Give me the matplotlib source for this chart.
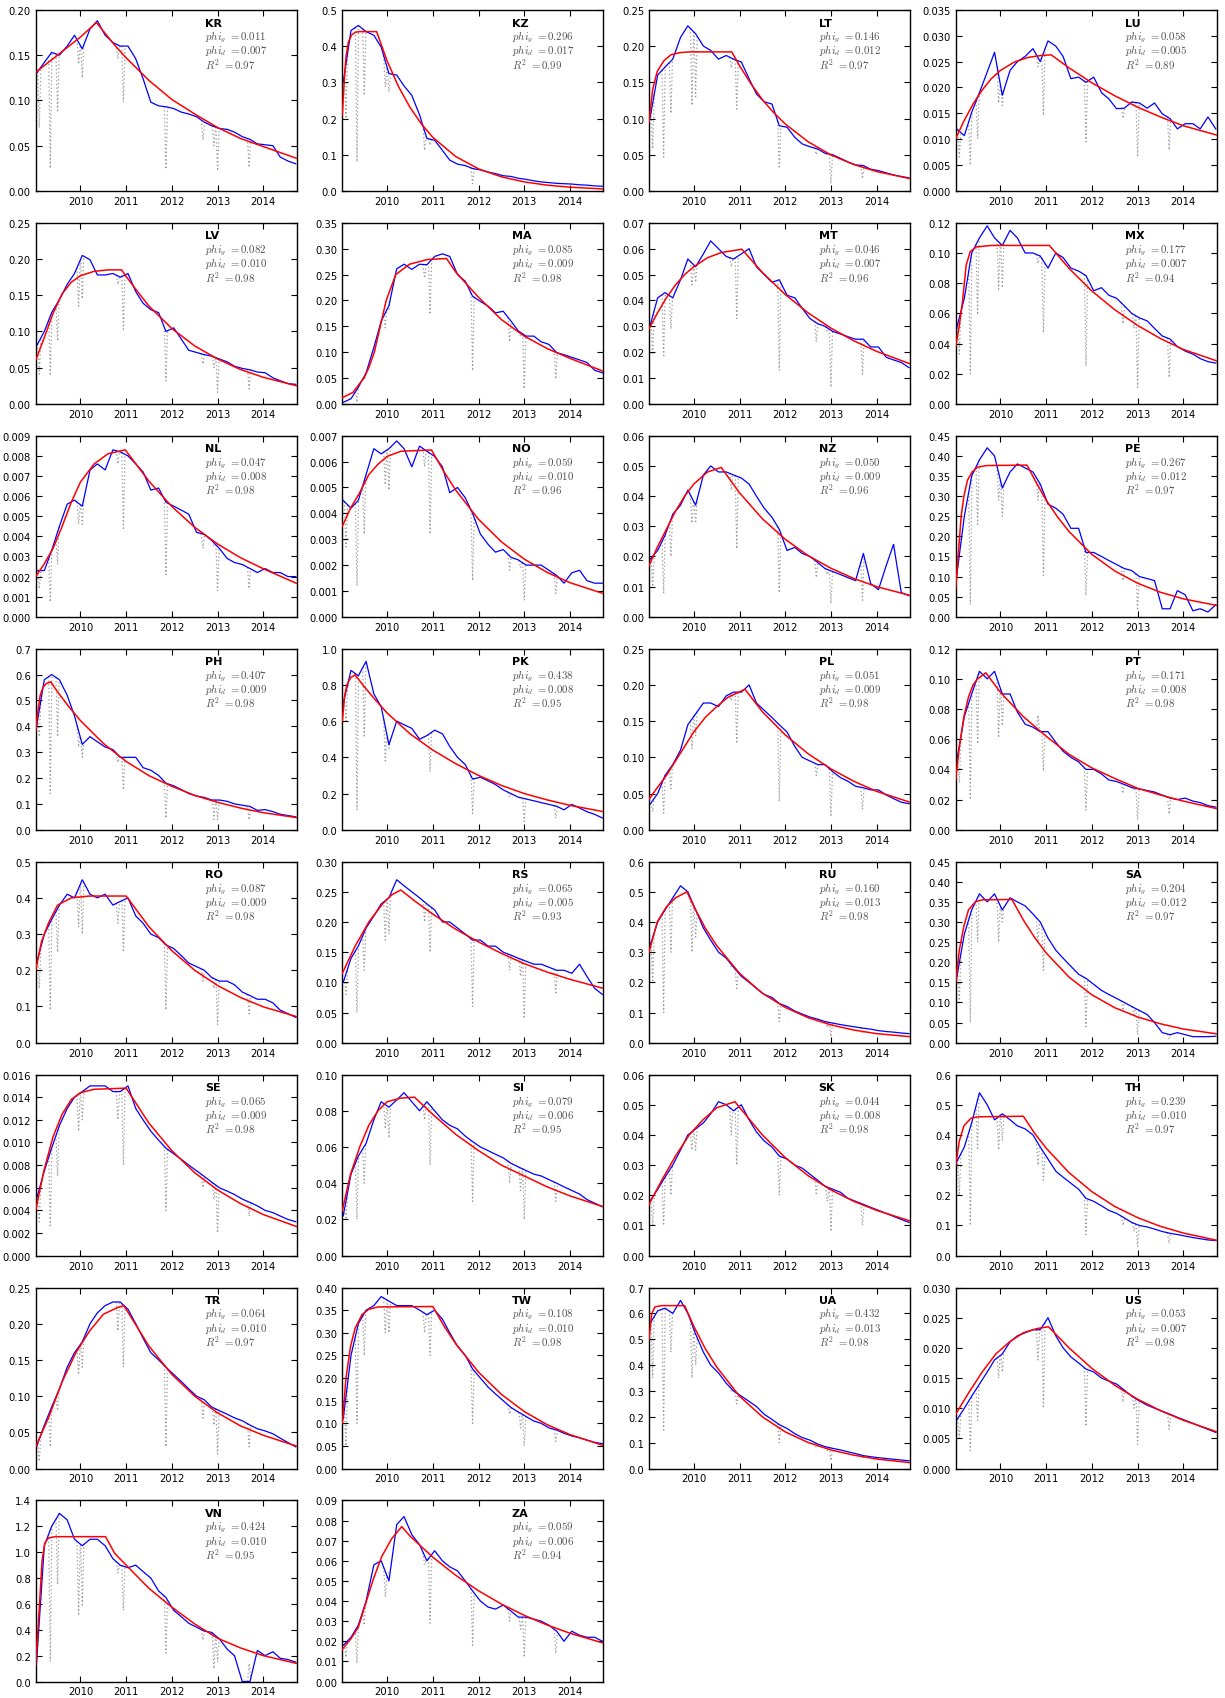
import matplotlib
matplotlib.use("Agg")
import matplotlib.pyplot as plt
import numpy as np
from matplotlib.ticker import MaxNLocator

plt.rcParams.update({
    "font.family": "DejaVu Sans",
    "font.size": 7.2,
    "mathtext.fontset": "cm",
    "xtick.direction": "in",
    "ytick.direction": "in",
    "xtick.top": True,
    "ytick.right": True,
    "xtick.major.size": 4,
    "ytick.major.size": 4,
    "axes.linewidth": 1.0,
})

COUNTRIES = ["KR", "KZ", "LT", "LU", "LV", "MA", "MT", "MX", "NL", "NO",
             "NZ", "PE", "PH", "PK", "PL", "PT", "RO", "RS", "RU", "SA",
             "SE", "SI", "SK", "TH", "TR", "TW", "UA", "US", "VN", "ZA"]
PHI_G = [0.011, 0.296, 0.146, 0.058, 0.082, 0.085, 0.046, 0.177, 0.047, 0.059,
         0.050, 0.267, 0.407, 0.438, 0.051, 0.171, 0.087, 0.065, 0.160, 0.204,
         0.065, 0.079, 0.044, 0.239, 0.064, 0.108, 0.432, 0.053, 0.424, 0.059]
PHI_D = [0.007, 0.017, 0.012, 0.005, 0.010, 0.009, 0.007, 0.007, 0.008, 0.010,
         0.009, 0.012, 0.009, 0.008, 0.009, 0.008, 0.009, 0.005, 0.013, 0.012,
         0.009, 0.006, 0.008, 0.010, 0.010, 0.010, 0.013, 0.007, 0.010, 0.006]
R2 = [0.97, 0.99, 0.97, 0.89, 0.98, 0.98, 0.96, 0.94, 0.98, 0.96,
      0.96, 0.97, 0.98, 0.95, 0.98, 0.98, 0.98, 0.93, 0.98, 0.97,
      0.98, 0.95, 0.98, 0.97, 0.97, 0.98, 0.98, 0.98, 0.95, 0.94]
YMAX = [0.20, 0.5, 0.25, 0.035, 0.25, 0.35, 0.07, 0.12, 0.009, 0.007,
        0.06, 0.45, 0.7, 1.0, 0.25, 0.12, 0.5, 0.30, 0.6, 0.45,
        0.016, 0.10, 0.06, 0.6, 0.25, 0.40, 0.7, 0.030, 1.4, 0.09]

YEARS = [2010, 2011, 2012, 2013, 2014]

# sample dates of the observed series (two-monthly)
DATES = [2009.04, 2009.21, 2009.37, 2009.54, 2009.71, 2009.87,
         2010.04, 2010.21, 2010.37, 2010.54, 2010.71, 2010.87,
         2011.04, 2011.21, 2011.37, 2011.54, 2011.71, 2011.87,
         2012.04, 2012.21, 2012.37, 2012.54, 2012.71, 2012.87,
         2013.04, 2013.21, 2013.37, 2013.54, 2013.71, 2013.87,
         2014.04, 2014.21, 2014.37, 2014.54, 2014.71]

# observed share (blue), one value per date
BLUE = {
    "KR": [0.13, 0.142, 0.153, 0.15, 0.16, 0.172, 0.157, 0.179, 0.188, 0.172, 0.164, 0.16,
           0.16, 0.146, 0.124, 0.098, 0.094, 0.093, 0.091, 0.087, 0.085, 0.082, 0.076, 0.072,
           0.069, 0.068, 0.065, 0.06, 0.057, 0.052, 0.051, 0.05, 0.0375, 0.033, 0.03],
    "KZ": [0.30, 0.443, 0.457, 0.44, 0.43, 0.397, 0.324, 0.32, 0.29, 0.264, 0.21, 0.145,
           0.14, 0.112, 0.085, 0.074, 0.07, 0.062, 0.058, 0.052, 0.048, 0.042, 0.04, 0.035,
           0.032, 0.028, 0.025, 0.023, 0.021, 0.02, 0.019, 0.017, 0.016, 0.014, 0.013],
    "LT": [0.10, 0.16, 0.171, 0.182, 0.212, 0.228, 0.217, 0.20, 0.194, 0.182, 0.187, 0.182,
           0.178, 0.155, 0.134, 0.123, 0.12, 0.09, 0.088, 0.074, 0.065, 0.061, 0.058, 0.052,
           0.05, 0.045, 0.04, 0.036, 0.035, 0.03, 0.028, 0.025, 0.022, 0.02, 0.018],
    "LU": [0.012, 0.0107, 0.0152, 0.019, 0.023, 0.0268, 0.0185, 0.0233, 0.025, 0.026, 0.0275, 0.025,
           0.029, 0.028, 0.026, 0.0217, 0.022, 0.021, 0.022, 0.019, 0.0178, 0.0159, 0.016, 0.0172,
           0.017, 0.016, 0.017, 0.0149, 0.014, 0.012, 0.013, 0.013, 0.012, 0.0143, 0.012],
    "LV": [0.08, 0.10, 0.126, 0.144, 0.165, 0.18, 0.205, 0.199, 0.178, 0.178, 0.18, 0.175,
           0.18, 0.155, 0.139, 0.13, 0.126, 0.10, 0.105, 0.089, 0.074, 0.071, 0.068, 0.066,
           0.062, 0.058, 0.052, 0.049, 0.047, 0.044, 0.043, 0.036, 0.032, 0.028, 0.027],
    "MA": [0.003, 0.01, 0.032, 0.06, 0.109, 0.16, 0.19, 0.261, 0.27, 0.26, 0.27, 0.269,
           0.285, 0.29, 0.285, 0.25, 0.237, 0.208, 0.198, 0.189, 0.176, 0.179, 0.16, 0.141,
           0.131, 0.131, 0.12, 0.115, 0.099, 0.095, 0.09, 0.085, 0.08, 0.065, 0.06],
    "MT": [0.03, 0.041, 0.043, 0.041, 0.048, 0.056, 0.053, 0.058, 0.063, 0.06, 0.057, 0.056,
           0.058, 0.06, 0.053, 0.05, 0.047, 0.048, 0.042, 0.041, 0.037, 0.033, 0.031, 0.03,
           0.028, 0.027, 0.026, 0.025, 0.025, 0.022, 0.022, 0.018, 0.017, 0.016, 0.014],
    "MX": [0.05, 0.07, 0.10, 0.11, 0.118, 0.11, 0.105, 0.115, 0.11, 0.10, 0.10, 0.098,
           0.09, 0.10, 0.097, 0.09, 0.088, 0.085, 0.075, 0.077, 0.072, 0.07, 0.065, 0.06,
           0.057, 0.055, 0.05, 0.045, 0.043, 0.038, 0.035, 0.033, 0.03, 0.028, 0.027],
    "NL": [0.0023, 0.0023, 0.0033, 0.0045, 0.0056, 0.0058, 0.0055, 0.0073, 0.0076, 0.0073, 0.0083, 0.0082,
           0.008, 0.0076, 0.0072, 0.0063, 0.0064, 0.0057, 0.0055, 0.0053, 0.0051, 0.0042, 0.0041, 0.0038,
           0.0034, 0.0029, 0.0027, 0.0026, 0.0024, 0.0022, 0.0024, 0.0022, 0.0022, 0.002, 0.002],
    "NO": [0.0045, 0.0042, 0.0045, 0.0055, 0.0065, 0.0063, 0.0065, 0.0068, 0.0065, 0.0058, 0.0066, 0.0064,
           0.0062, 0.0058, 0.0048, 0.005, 0.0046, 0.004, 0.0032, 0.0028, 0.0025, 0.0026, 0.0023, 0.0022,
           0.002, 0.002, 0.002, 0.0018, 0.0016, 0.0013, 0.0017, 0.0018, 0.0014, 0.0013, 0.0013],
    "NZ": [0.019, 0.022, 0.027, 0.034, 0.037, 0.042, 0.037, 0.047, 0.05, 0.048, 0.048, 0.047,
           0.046, 0.044, 0.04, 0.036, 0.033, 0.029, 0.022, 0.023, 0.021, 0.02, 0.018, 0.016,
           0.015, 0.014, 0.013, 0.012, 0.021, 0.011, 0.009, 0.017, 0.024, 0.008, 0.007],
    "PE": [0.10, 0.25, 0.35, 0.39, 0.42, 0.40, 0.32, 0.36, 0.38, 0.37, 0.36, 0.33,
           0.28, 0.27, 0.255, 0.22, 0.22, 0.16, 0.16, 0.15, 0.14, 0.13, 0.12, 0.115,
           0.10, 0.095, 0.09, 0.02, 0.02, 0.065, 0.055, 0.015, 0.02, 0.012, 0.03],
    "PH": [0.40, 0.58, 0.60, 0.58, 0.52, 0.44, 0.33, 0.36, 0.34, 0.32, 0.31, 0.28,
           0.28, 0.28, 0.24, 0.23, 0.21, 0.18, 0.17, 0.155, 0.14, 0.13, 0.125, 0.115,
           0.115, 0.11, 0.10, 0.095, 0.09, 0.075, 0.078, 0.07, 0.06, 0.055, 0.05],
    "PK": [0.70, 0.88, 0.85, 0.93, 0.75, 0.68, 0.47, 0.60, 0.58, 0.56, 0.50, 0.52,
           0.55, 0.53, 0.46, 0.40, 0.36, 0.28, 0.29, 0.27, 0.25, 0.22, 0.20, 0.18,
           0.17, 0.16, 0.15, 0.14, 0.13, 0.11, 0.14, 0.12, 0.10, 0.085, 0.065],
    "PL": [0.035, 0.05, 0.075, 0.09, 0.11, 0.145, 0.16, 0.175, 0.175, 0.17, 0.185, 0.19,
           0.19, 0.20, 0.175, 0.165, 0.155, 0.145, 0.135, 0.115, 0.10, 0.095, 0.09, 0.09,
           0.08, 0.072, 0.067, 0.06, 0.058, 0.055, 0.055, 0.048, 0.043, 0.038, 0.036],
    "PT": [0.045, 0.075, 0.09, 0.105, 0.10, 0.105, 0.09, 0.09, 0.078, 0.07, 0.068, 0.065,
           0.065, 0.058, 0.052, 0.048, 0.045, 0.04, 0.04, 0.037, 0.033, 0.032, 0.03, 0.028,
           0.027, 0.026, 0.025, 0.023, 0.021, 0.02, 0.021, 0.019, 0.018, 0.016, 0.015],
    "RO": [0.22, 0.30, 0.34, 0.38, 0.41, 0.40, 0.45, 0.41, 0.40, 0.41, 0.38, 0.39,
           0.40, 0.35, 0.33, 0.30, 0.29, 0.27, 0.26, 0.24, 0.22, 0.21, 0.20, 0.18,
           0.17, 0.17, 0.16, 0.14, 0.13, 0.12, 0.12, 0.11, 0.09, 0.08, 0.07],
    "RS": [0.10, 0.14, 0.16, 0.19, 0.21, 0.23, 0.24, 0.27, 0.26, 0.25, 0.24, 0.23,
           0.22, 0.20, 0.20, 0.19, 0.18, 0.17, 0.17, 0.16, 0.16, 0.15, 0.145, 0.14,
           0.135, 0.13, 0.13, 0.125, 0.12, 0.12, 0.115, 0.13, 0.11, 0.09, 0.08],
    "RU": [0.32, 0.40, 0.44, 0.48, 0.52, 0.50, 0.44, 0.38, 0.34, 0.30, 0.28, 0.25,
           0.22, 0.20, 0.18, 0.16, 0.15, 0.13, 0.12, 0.105, 0.095, 0.085, 0.078, 0.07,
           0.065, 0.06, 0.056, 0.052, 0.048, 0.045, 0.04, 0.037, 0.035, 0.032, 0.03],
    "SA": [0.16, 0.27, 0.33, 0.37, 0.35, 0.37, 0.33, 0.36, 0.35, 0.34, 0.32, 0.30,
           0.26, 0.23, 0.21, 0.19, 0.17, 0.16, 0.145, 0.13, 0.12, 0.11, 0.10, 0.09,
           0.08, 0.07, 0.05, 0.025, 0.02, 0.025, 0.02, 0.015, 0.015, 0.015, 0.016],
    "SE": [0.005, 0.0075, 0.0095, 0.0115, 0.013, 0.014, 0.0145, 0.015, 0.015, 0.015, 0.0145, 0.0145,
           0.015, 0.013, 0.012, 0.011, 0.0102, 0.0095, 0.009, 0.0085, 0.008, 0.0075, 0.007, 0.0065,
           0.006, 0.0057, 0.0054, 0.005, 0.0047, 0.0044, 0.004, 0.0038, 0.0035, 0.0032, 0.003],
    "SI": [0.022, 0.045, 0.055, 0.062, 0.075, 0.085, 0.082, 0.086, 0.09, 0.085, 0.08, 0.085,
           0.08, 0.075, 0.072, 0.07, 0.066, 0.063, 0.06, 0.058, 0.056, 0.054, 0.051, 0.049,
           0.047, 0.045, 0.044, 0.042, 0.04, 0.038, 0.036, 0.034, 0.031, 0.029, 0.027],
    "SK": [0.018, 0.022, 0.026, 0.03, 0.035, 0.04, 0.042, 0.044, 0.047, 0.051, 0.05, 0.048,
           0.05, 0.045, 0.041, 0.038, 0.036, 0.033, 0.032, 0.03, 0.029, 0.027, 0.025, 0.023,
           0.022, 0.021, 0.019, 0.018, 0.017, 0.016, 0.015, 0.014, 0.013, 0.012, 0.011],
    "TH": [0.31, 0.36, 0.44, 0.54, 0.50, 0.45, 0.47, 0.45, 0.43, 0.42, 0.40, 0.36,
           0.32, 0.28, 0.26, 0.24, 0.22, 0.19, 0.18, 0.165, 0.15, 0.14, 0.125, 0.11,
           0.10, 0.095, 0.088, 0.08, 0.074, 0.07, 0.065, 0.06, 0.056, 0.052, 0.05],
    "TR": [0.03, 0.06, 0.085, 0.11, 0.14, 0.16, 0.175, 0.20, 0.215, 0.225, 0.23, 0.23,
           0.22, 0.20, 0.18, 0.16, 0.15, 0.14, 0.13, 0.12, 0.11, 0.10, 0.095, 0.085,
           0.08, 0.075, 0.07, 0.066, 0.06, 0.055, 0.052, 0.048, 0.042, 0.036, 0.03],
    "TW": [0.11, 0.25, 0.32, 0.35, 0.36, 0.38, 0.37, 0.36, 0.36, 0.36, 0.35, 0.34,
           0.35, 0.33, 0.30, 0.27, 0.25, 0.22, 0.20, 0.18, 0.165, 0.15, 0.135, 0.125,
           0.115, 0.105, 0.10, 0.09, 0.085, 0.078, 0.072, 0.068, 0.063, 0.058, 0.055],
    "UA": [0.56, 0.61, 0.62, 0.60, 0.65, 0.60, 0.52, 0.45, 0.40, 0.37, 0.33, 0.30,
           0.28, 0.26, 0.24, 0.21, 0.19, 0.17, 0.155, 0.135, 0.12, 0.11, 0.095, 0.085,
           0.078, 0.072, 0.065, 0.058, 0.05, 0.046, 0.042, 0.039, 0.036, 0.033, 0.03],
    "US": [0.008, 0.01, 0.012, 0.014, 0.016, 0.018, 0.019, 0.021, 0.022, 0.0225, 0.023, 0.023,
           0.025, 0.022, 0.02, 0.0185, 0.0175, 0.0165, 0.016, 0.015, 0.0145, 0.014, 0.013, 0.012,
           0.0112, 0.0105, 0.01, 0.0095, 0.009, 0.0085, 0.008, 0.0075, 0.007, 0.0065, 0.006],
    "VN": [0.15, 1.05, 1.20, 1.30, 1.25, 1.10, 1.05, 1.10, 1.10, 1.05, 0.95, 0.90,
           0.88, 0.90, 0.85, 0.80, 0.70, 0.65, 0.55, 0.50, 0.45, 0.42, 0.39, 0.38,
           0.33, 0.25, 0.20, 0.0, 0.0, 0.24, 0.20, 0.23, 0.18, 0.17, 0.15],
    "ZA": [0.018, 0.022, 0.028, 0.04, 0.058, 0.06, 0.05, 0.078, 0.082, 0.073, 0.068, 0.06,
           0.065, 0.06, 0.057, 0.055, 0.05, 0.045, 0.04, 0.037, 0.036, 0.038, 0.035, 0.032,
           0.032, 0.031, 0.03, 0.028, 0.025, 0.02, 0.025, 0.023, 0.022, 0.022, 0.02],
}

# fitted curve (red), (date, value) pairs
RED = {
    "KR": [(2009.02, 0.131), (2009.5, 0.150), (2010.0, 0.170), (2010.35, 0.186), (2010.75, 0.161),
           (2011.0, 0.147), (2011.5, 0.122), (2012.0, 0.101), (2012.5, 0.085), (2013.0, 0.070),
           (2013.5, 0.058), (2014.0, 0.049), (2014.73, 0.036)],
    "KZ": [(2009.02, 0.21), (2009.06, 0.30), (2009.10, 0.37), (2009.15, 0.41), (2009.22, 0.43),
           (2009.30, 0.438), (2009.40, 0.44), (2009.77, 0.44), (2010.0, 0.359), (2010.25, 0.288),
           (2010.5, 0.231), (2010.75, 0.185), (2011.0, 0.148), (2011.5, 0.095), (2012.0, 0.061),
           (2012.5, 0.039), (2013.0, 0.025), (2013.5, 0.016), (2014.0, 0.0104), (2014.73, 0.0055)],
    "LT": [(2009.02, 0.095), (2009.1, 0.14), (2009.2, 0.165), (2009.35, 0.18), (2009.5, 0.188),
           (2009.7, 0.191), (2009.9, 0.192), (2010.83, 0.192), (2011.0, 0.173), (2011.25, 0.148),
           (2011.5, 0.126), (2011.75, 0.108), (2012.0, 0.0925), (2012.5, 0.068), (2013.0, 0.0497),
           (2013.5, 0.0365), (2014.0, 0.0268), (2014.73, 0.017)],
    "LU": [(2009.02, 0.0101), (2009.2, 0.0135), (2009.4, 0.0168), (2009.6, 0.0195), (2009.8, 0.0217),
           (2010.0, 0.0233), (2010.3, 0.0249), (2010.6, 0.0258), (2010.9, 0.0262), (2011.11, 0.0263),
           (2011.5, 0.0238), (2012.0, 0.0209), (2012.5, 0.0184), (2013.0, 0.0162), (2013.5, 0.0143),
           (2014.0, 0.0126), (2014.73, 0.0108)],
    "LV": [(2009.02, 0.06), (2009.2, 0.09), (2009.4, 0.125), (2009.6, 0.152), (2009.8, 0.168),
           (2010.0, 0.177), (2010.3, 0.183), (2010.6, 0.185), (2010.9, 0.185), (2011.0, 0.176),
           (2011.25, 0.155), (2011.5, 0.135), (2012.0, 0.104), (2012.5, 0.080), (2013.0, 0.062),
           (2013.5, 0.0475), (2014.0, 0.0367), (2014.73, 0.025)],
    "MA": [(2009.02, 0.012), (2009.25, 0.022), (2009.5, 0.051), (2009.6, 0.07), (2009.72, 0.10),
           (2009.85, 0.15), (2009.98, 0.20), (2010.19, 0.25), (2010.49, 0.27), (2010.88, 0.279),
           (2011.3, 0.281), (2011.5, 0.255), (2012.0, 0.206), (2012.5, 0.163), (2013.0, 0.131),
           (2013.5, 0.107), (2014.0, 0.088), (2014.73, 0.063)],
    "MT": [(2009.02, 0.029), (2009.2, 0.035), (2009.4, 0.041), (2009.6, 0.046), (2009.8, 0.050),
           (2010.0, 0.053), (2010.3, 0.0565), (2010.6, 0.0585), (2011.05, 0.0598), (2011.5, 0.0508),
           (2012.0, 0.0423), (2012.5, 0.0352), (2013.0, 0.0293), (2013.5, 0.0244), (2014.0, 0.0203),
           (2014.73, 0.0155)],
    "MX": [(2009.02, 0.038), (2009.1, 0.052), (2009.17, 0.068), (2009.25, 0.092), (2009.34, 0.101),
           (2009.47, 0.104), (2009.8, 0.105), (2011.07, 0.105), (2011.5, 0.0898), (2012.0, 0.0748),
           (2012.5, 0.0624), (2013.0, 0.052), (2013.5, 0.0433), (2014.0, 0.0361), (2014.73, 0.0285)],
    "NL": [(2009.02, 0.002), (2009.2, 0.0026), (2009.4, 0.0034), (2009.6, 0.0045), (2009.8, 0.0057),
           (2010.0, 0.0067), (2010.3, 0.0076), (2010.6, 0.0081), (2010.98, 0.0083), (2011.5, 0.00674),
           (2012.0, 0.00548), (2012.5, 0.00445), (2013.0, 0.00362), (2013.5, 0.00294),
           (2014.0, 0.00239), (2014.73, 0.00166)],
    "NO": [(2009.02, 0.0035), (2009.2, 0.0042), (2009.4, 0.0048), (2009.6, 0.0055), (2009.8, 0.0059),
           (2010.0, 0.0062), (2010.3, 0.0064), (2010.97, 0.00645), (2011.25, 0.00559), (2011.5, 0.0049),
           (2012.0, 0.00377), (2012.5, 0.0029), (2013.0, 0.00223), (2013.5, 0.00172),
           (2014.0, 0.00132), (2014.73, 0.0009)],
    "NZ": [(2009.02, 0.017), (2009.2, 0.023), (2009.4, 0.029), (2009.6, 0.035), (2009.8, 0.040),
           (2010.0, 0.044), (2010.3, 0.048), (2010.6, 0.0495), (2011.0, 0.0411), (2011.5, 0.0325),
           (2012.0, 0.0257), (2012.5, 0.0203), (2013.0, 0.0161), (2013.5, 0.0127), (2014.0, 0.010),
           (2014.73, 0.0071)],
    "PE": [(2009.02, 0.07), (2009.08, 0.16), (2009.14, 0.25), (2009.2, 0.30), (2009.28, 0.34),
           (2009.38, 0.36), (2009.5, 0.372), (2009.7, 0.376), (2010.58, 0.377), (2010.8, 0.33),
           (2011.0, 0.29), (2011.25, 0.248), (2011.5, 0.212), (2012.0, 0.155), (2012.5, 0.114),
           (2013.0, 0.0835), (2013.5, 0.061), (2014.0, 0.0447), (2014.73, 0.0283)],
    "PH": [(2009.02, 0.38), (2009.07, 0.46), (2009.12, 0.52), (2009.18, 0.55), (2009.25, 0.565),
           (2009.35, 0.572), (2009.5, 0.533), (2009.75, 0.475), (2010.0, 0.422), (2010.5, 0.334),
           (2011.0, 0.264), (2011.5, 0.209), (2012.0, 0.168), (2012.5, 0.133), (2013.0, 0.106),
           (2013.5, 0.084), (2014.0, 0.066), (2014.73, 0.047)],
    "PK": [(2009.02, 0.60), (2009.07, 0.74), (2009.12, 0.80), (2009.2, 0.84), (2009.3, 0.855),
           (2009.5, 0.79), (2009.75, 0.715), (2010.0, 0.645), (2010.5, 0.53), (2011.0, 0.44),
           (2011.5, 0.365), (2012.0, 0.30), (2012.5, 0.245), (2013.0, 0.20), (2013.5, 0.165),
           (2014.0, 0.135), (2014.73, 0.10)],
    "PL": [(2009.02, 0.042), (2009.2, 0.058), (2009.4, 0.075), (2009.6, 0.095), (2009.8, 0.115),
           (2010.0, 0.135), (2010.25, 0.155), (2010.5, 0.17), (2010.75, 0.183), (2011.12, 0.194),
           (2011.5, 0.163), (2012.0, 0.131), (2012.5, 0.105), (2013.0, 0.084), (2013.5, 0.067),
           (2014.0, 0.053), (2014.73, 0.038)],
    "PT": [(2009.02, 0.033), (2009.1, 0.055), (2009.2, 0.075), (2009.3, 0.088), (2009.4, 0.096),
           (2009.5, 0.10), (2009.68, 0.104), (2010.0, 0.091), (2010.5, 0.075), (2011.0, 0.062),
           (2011.5, 0.05), (2012.0, 0.041), (2012.5, 0.034), (2013.0, 0.0275), (2013.5, 0.023),
           (2014.0, 0.019), (2014.73, 0.014)],
    "RO": [(2009.02, 0.20), (2009.15, 0.28), (2009.3, 0.33), (2009.5, 0.38), (2009.8, 0.40),
           (2010.2, 0.405), (2011.0, 0.405), (2011.5, 0.32), (2012.0, 0.254), (2012.5, 0.20),
           (2013.0, 0.158), (2013.5, 0.125), (2014.0, 0.099), (2014.73, 0.072)],
    "RS": [(2009.02, 0.115), (2009.3, 0.16), (2009.6, 0.20), (2009.9, 0.23), (2010.1, 0.245),
           (2010.3, 0.253), (2010.6, 0.235), (2011.0, 0.213), (2011.5, 0.188), (2012.0, 0.167),
           (2012.5, 0.148), (2013.0, 0.131), (2013.5, 0.117), (2014.0, 0.105), (2014.73, 0.09)],
    "RU": [(2009.02, 0.30), (2009.2, 0.40), (2009.4, 0.45), (2009.6, 0.48), (2009.85, 0.50),
           (2010.0, 0.452), (2010.25, 0.38), (2010.5, 0.322), (2011.0, 0.23), (2011.5, 0.164),
           (2012.0, 0.117), (2012.5, 0.083), (2013.0, 0.059), (2013.5, 0.042), (2014.0, 0.03),
           (2014.73, 0.02)],
    "SA": [(2009.02, 0.15), (2009.1, 0.23), (2009.2, 0.29), (2009.3, 0.33), (2009.45, 0.35),
           (2009.6, 0.355), (2010.25, 0.356), (2010.5, 0.305), (2010.75, 0.261), (2011.0, 0.223),
           (2011.5, 0.163), (2012.0, 0.119), (2012.5, 0.087), (2013.0, 0.064), (2013.5, 0.047),
           (2014.0, 0.034), (2014.73, 0.022)],
    "SE": [(2009.02, 0.004), (2009.2, 0.0075), (2009.4, 0.0105), (2009.6, 0.0125), (2009.8, 0.0138),
           (2010.0, 0.0144), (2010.3, 0.0147), (2011.0, 0.0148), (2011.5, 0.0117), (2012.0, 0.00927),
           (2012.5, 0.00733), (2013.0, 0.0058), (2013.5, 0.0046), (2014.0, 0.00363), (2014.73, 0.00257)],
    "SI": [(2009.02, 0.025), (2009.2, 0.045), (2009.4, 0.06), (2009.6, 0.072), (2009.8, 0.08),
           (2010.0, 0.085), (2010.3, 0.087), (2010.6, 0.0875), (2011.0, 0.078), (2011.5, 0.067),
           (2012.0, 0.058), (2012.5, 0.05), (2013.0, 0.044), (2013.5, 0.038), (2014.0, 0.033),
           (2014.73, 0.027)],
    "SK": [(2009.02, 0.017), (2009.3, 0.025), (2009.6, 0.033), (2009.9, 0.04), (2010.2, 0.045),
           (2010.5, 0.049), (2010.9, 0.051), (2011.5, 0.040), (2012.0, 0.0325), (2012.5, 0.0265),
           (2013.0, 0.0218), (2013.5, 0.018), (2014.0, 0.015), (2014.73, 0.0115)],
    "TH": [(2009.02, 0.30), (2009.1, 0.38), (2009.2, 0.43), (2009.35, 0.455), (2009.5, 0.46),
           (2010.5, 0.462), (2010.75, 0.405), (2011.0, 0.356), (2011.5, 0.275), (2012.0, 0.212),
           (2012.5, 0.163), (2013.0, 0.126), (2013.5, 0.097), (2014.0, 0.075), (2014.73, 0.051)],
    "TR": [(2009.02, 0.03), (2009.3, 0.07), (2009.6, 0.12), (2009.9, 0.16), (2010.2, 0.19),
           (2010.5, 0.213), (2010.8, 0.222), (2010.95, 0.225), (2011.5, 0.169), (2012.0, 0.13),
           (2012.5, 0.10), (2013.0, 0.077), (2013.5, 0.059), (2014.0, 0.046), (2014.73, 0.031)],
    "TW": [(2009.02, 0.10), (2009.1, 0.20), (2009.2, 0.27), (2009.3, 0.31), (2009.45, 0.34),
           (2009.6, 0.352), (2009.8, 0.357), (2011.0, 0.358), (2011.25, 0.314), (2011.5, 0.276),
           (2012.0, 0.213), (2012.5, 0.164), (2013.0, 0.126), (2013.5, 0.097), (2014.0, 0.075),
           (2014.73, 0.051)],
    "UA": [(2009.02, 0.50), (2009.08, 0.60), (2009.15, 0.625), (2009.3, 0.63), (2009.8, 0.63),
           (2010.0, 0.55), (2010.25, 0.464), (2010.5, 0.393), (2011.0, 0.28), (2011.5, 0.20),
           (2012.0, 0.142), (2012.5, 0.101), (2013.0, 0.072), (2013.5, 0.052), (2014.0, 0.037),
           (2014.73, 0.023)],
    "US": [(2009.02, 0.009), (2009.3, 0.0125), (2009.6, 0.016), (2009.9, 0.019), (2010.2, 0.021),
           (2010.5, 0.0225), (2010.8, 0.0232), (2011.05, 0.0235), (2011.5, 0.020), (2012.0, 0.0166),
           (2012.5, 0.0138), (2013.0, 0.0115), (2013.5, 0.0096), (2014.0, 0.008), (2014.73, 0.0061)],
    "VN": [(2009.02, 0.12), (2009.06, 0.35), (2009.1, 0.57), (2009.16, 0.93), (2009.22, 1.07),
           (2009.3, 1.11), (2009.45, 1.12), (2010.55, 1.12), (2010.75, 0.99), (2011.0, 0.90),
           (2011.5, 0.72), (2012.0, 0.575), (2012.5, 0.445), (2013.0, 0.335), (2013.5, 0.26),
           (2014.0, 0.20), (2014.73, 0.14)],
    "ZA": [(2009.02, 0.016), (2009.2, 0.021), (2009.37, 0.027), (2009.52, 0.038), (2009.7, 0.051),
           (2009.88, 0.062), (2010.1, 0.071), (2010.32, 0.077), (2010.5, 0.0723), (2011.0, 0.0618),
           (2011.5, 0.0528), (2012.0, 0.0451), (2012.5, 0.0385), (2013.0, 0.0329), (2013.5, 0.0281),
           (2014.0, 0.024), (2014.73, 0.0191)],
}

# holiday dips in the raw series (grey dotted), bottom value per dip date
DIP_DATES = [2009.10, 2009.34, 2009.50, 2009.96, 2010.04, 2010.82,
             2010.94, 2011.87, 2012.68, 2012.92, 2013.00, 2013.69]
DIPS = {
    "KR": [0.07, 0.025, 0.087, 0.14, 0.125, 0.146, 0.098, 0.024, 0.056, 0.05, 0.022, 0.026],
    "KZ": [0.20, 0.08, 0.264, 0.287, 0.273, 0.112, 0.126, 0.02, None, None, None, None],
    "LT": [0.058, 0.047, 0.107, 0.118, 0.13, 0.17, 0.113, 0.031, 0.05, 0.049, 0.01, 0.017],
    "LU": [0.0066, 0.005, 0.0101, 0.017, 0.0165, 0.024, 0.0146, 0.0095, 0.014, 0.0165, 0.0066, 0.0079],
    "LV": [0.041, 0.039, 0.087, 0.135, 0.145, 0.165, 0.103, 0.032, 0.055, 0.05, 0.016, 0.021],
    "MA": [None, 0.003, 0.045, 0.147, 0.18, 0.243, 0.173, 0.064, 0.12, 0.13, 0.029, 0.048],
    "MT": [0.019, 0.018, 0.029, 0.046, 0.047, 0.053, 0.033, 0.013, 0.024, 0.028, 0.0064, 0.0115],
    "MX": [0.033, 0.02, 0.059, 0.076, 0.077, 0.093, 0.047, 0.025, 0.053, 0.05, 0.011, 0.0175],
    "NL": [0.0014, 0.00074, 0.0026, 0.0046, 0.0046, 0.0076, 0.0044, 0.0021, 0.0034, 0.0035, 0.0013, 0.0014],
    "NO": [0.0027, 0.0012, 0.0032, 0.0051, 0.0049, 0.0058, 0.0032, 0.0014, 0.0018, 0.0019, 0.00064, 0.0009],
    "NZ": [0.01, 0.0077, 0.02, 0.031, 0.031, 0.042, 0.0225, 0.008, 0.013, 0.014, 0.0044, 0.0055],
    "PE": [0.205, 0.03, 0.23, 0.29, 0.25, 0.29, 0.103, 0.053, 0.09, None, 0.016, None],
    "PH": [0.36, 0.14, 0.36, 0.32, 0.28, 0.26, 0.154, 0.045, None, 0.04, 0.038, 0.038],
    "PK": [0.6, 0.11, 0.51, 0.38, 0.45, 0.51, 0.32, 0.09, 0.18, 0.17, 0.046, 0.064],
    "PL": [0.025, 0.023, 0.057, 0.112, 0.13, 0.178, 0.119, 0.039, 0.075, None, 0.018, 0.028],
    "PT": [0.031, 0.02, 0.057, 0.061, 0.069, 0.076, 0.039, 0.013, 0.024, 0.026, 0.0066, 0.0103],
    "RO": [0.15, 0.09, 0.25, 0.32, 0.30, 0.33, 0.25, 0.09, 0.17, 0.15, 0.05, 0.08],
    "RS": [0.08, 0.05, 0.12, 0.17, 0.18, 0.20, 0.15, 0.06, 0.12, 0.11, 0.04, 0.08],
    "RU": [0.2, 0.1, 0.3, 0.3, 0.35, 0.25, 0.18, 0.07, 0.07, 0.05, 0.02, 0.03],
    "SA": [0.1, 0.05, 0.25, 0.25, 0.3, 0.25, 0.18, 0.04, 0.08, 0.07, 0.02, 0.01],
    "SE": [0.003, 0.0025, 0.007, 0.011, 0.012, 0.012, 0.008, 0.004, 0.006, 0.005, 0.002, 0.0035],
    "SI": [0.02, 0.02, 0.04, 0.07, 0.065, 0.075, 0.05, 0.03, 0.04, 0.035, 0.02, 0.03],
    "SK": [0.01, 0.01, 0.02, 0.035, 0.035, 0.04, 0.03, 0.02, 0.02, 0.018, 0.008, 0.01],
    "TH": [0.2, 0.1, 0.35, 0.35, 0.38, 0.3, 0.25, 0.07, 0.1, 0.08, 0.03, 0.04],
    "TR": [0.01, 0.03, 0.08, 0.13, 0.14, 0.19, 0.14, 0.03, 0.07, 0.06, 0.02, 0.03],
    "TW": [0.05, 0.1, 0.25, 0.3, 0.3, 0.3, 0.25, 0.1, 0.12, 0.09, 0.05, 0.06],
    "UA": [0.35, 0.15, 0.45, 0.35, 0.4, 0.3, 0.25, 0.1, 0.08, 0.07, 0.03, 0.04],
    "US": [0.005, 0.003, 0.008, 0.015, 0.016, 0.018, 0.01, 0.007, 0.011, 0.01, 0.004, 0.0065],
    "VN": [0.5, 0.154, 0.75, 0.51, 0.58, 0.84, 0.55, 0.22, 0.32, 0.10, 0.15, 0.14],
    "ZA": [0.012, 0.009, 0.028, 0.042, 0.054, 0.058, 0.029, 0.018, 0.03, 0.026, 0.012, 0.014],
}

fig = plt.figure(figsize=(12.25, 16.99), dpi=100, facecolor="white")
gs = fig.add_gridspec(8, 4, left=0.0291, right=0.9932, top=0.9936, bottom=0.0097,
                      wspace=0.175, hspace=0.176)

dates = np.array(DATES)
half = 0.035  # half width of a dip
for i, code in enumerate(COUNTRIES):
    ax = fig.add_subplot(gs[i // 4, i % 4])
    vals = np.array(BLUE[code])
    assert len(vals) == len(dates), code

    for d, low in zip(DIP_DATES, DIPS[code]):
        if low is None:
            continue
        xs = [d - half, d, d + half]
        top = np.interp([d - half, d + half], dates, vals)
        ax.plot(xs, [top[0], low, top[1]], linestyle=(0, (1, 2)), color="#9a9a9a",
                lw=0.9, zorder=1)

    ax.plot(dates, vals, color="#0000ff", lw=0.9, zorder=2)
    rt, rv = zip(*RED[code])
    ax.plot(rt, rv, color="#ff0000", lw=1.1, zorder=3)

    ax.set_xlim(2009.02, 2014.73)
    ax.set_ylim(0, YMAX[i])
    ax.set_xticks(YEARS)
    ax.set_xticklabels([str(y) for y in YEARS])
    ax.yaxis.set_major_locator(MaxNLocator(nbins=9, steps=[1, 2, 5, 10]))

    ax.text(0.65, 0.93, code, transform=ax.transAxes, fontsize=8, fontweight="bold",
            va="center", ha="left")
    ax.text(0.65, 0.855, r"$phi_g\ {=}%.3f$" % PHI_G[i], transform=ax.transAxes,
            fontsize=7.8, color="#505050", va="center", ha="left")
    ax.text(0.65, 0.78, r"$phi_d\ {=}%.3f$" % PHI_D[i], transform=ax.transAxes,
            fontsize=7.8, color="#505050", va="center", ha="left")
    ax.text(0.65, 0.705, r"$R^2\ {=}%.2f$" % R2[i], transform=ax.transAxes,
            fontsize=7.8, color="#505050", va="center", ha="left")

fig.savefig("out.png", dpi=100, facecolor="white")
